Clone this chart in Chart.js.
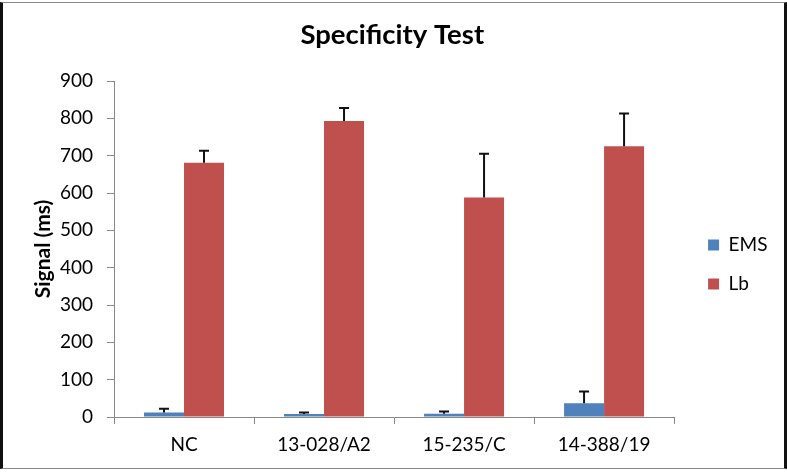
<!DOCTYPE html>
<html>
<head>
<meta charset="utf-8">
<script src="https://cdn.jsdelivr.net/npm/chart.js@4/dist/chart.umd.min.js"></script>
<style>
  html, body { margin: 0; padding: 0; background: #fff; }
  #wrap { position: relative; width: 787px; height: 472px; }
  #frame { position: absolute; left: 0; top: 2px; width: 787px; height: 467px;
           border-left: 3px solid #111; border-right: 3px solid #111;
           border-top: 1px solid #888; border-bottom: 1px solid #888; box-sizing: border-box; pointer-events: none; }
</style>
</head>
<body>
<div id="wrap">
  <canvas id="c" width="787" height="472"></canvas>
  <div id="frame"></div>
</div>
<script>
const categories = ['NC', '13-028/A2', '15-235/C', '14-388/19'];
const emsValues = [12, 8, 9, 37];
const emsErrors = [10, 4, 6, 31];
const lbValues = [681, 793, 588, 725];
const lbErrors = [32, 35, 117, 88];
const seriesNames = ['EMS', 'Lb'];
const yTicks = { min: 0, max: 900, step: 100 };

const FONT = 'Lato, "Open Sans", sans-serif';
const errorSets = [emsErrors, lbErrors];

const errorBars = {
  id: 'errorBars',
  afterDatasetsDraw(chart) {
    const ctx = chart.ctx;
    const y = chart.scales.y;
    ctx.save();
    ctx.strokeStyle = '#111';
    ctx.lineWidth = 2;
    chart.data.datasets.forEach((ds, di) => {
      const meta = chart.getDatasetMeta(di);
      meta.data.forEach((bar, i) => {
        const v = ds.data[i];
        const e = errorSets[di][i];
        const yTop = y.getPixelForValue(v + e);
        const yBase = bar.y;
        ctx.beginPath();
        ctx.moveTo(bar.x, yBase);
        ctx.lineTo(bar.x, yTop);
        ctx.moveTo(bar.x - 5, yTop);
        ctx.lineTo(bar.x + 5, yTop);
        ctx.stroke();
      });
    });
    ctx.restore();
  }
};

new Chart(document.getElementById('c'), {
  type: 'bar',
  data: {
    labels: categories,
    datasets: [
      { label: seriesNames[0], data: emsValues, backgroundColor: '#4F81BD' },
      { label: seriesNames[1], data: lbValues, backgroundColor: '#C0504D' }
    ]
  },
  options: {
    responsive: false,
    animation: false,
    events: [],
    layout: { padding: { left: 7, right: 9.5, top: 0, bottom: 0 } },
    datasets: { bar: { categoryPercentage: 80 / 140, barPercentage: 1.0 } },
    plugins: {
      title: {
        display: true, text: 'Specificity Test', color: '#000',
        font: { family: FONT, size: 27.5, weight: 'bold', lineHeight: 1.2 },
        padding: { top: 19, bottom: 29 }
      },
      legend: {
        position: 'right',
        title: { display: true, text: ' ', font: { size: 10, lineHeight: 1.2 }, padding: { top: 22.5, bottom: 22.5 } },
        labels: {
          boxWidth: 11, boxHeight: 11, color: '#000', padding: 20,
          font: { family: FONT, size: 19 }
        }
      },
      tooltip: { enabled: false }
    },
    scales: {
      x: {
        afterFit(s) { s.height = 55; },
        grid: { drawOnChartArea: false, drawTicks: true, tickLength: 7, color: '#888', offset: true },
        border: { color: '#888', width: 1 },
        ticks: { color: '#000', padding: 9, font: { family: FONT, size: 19 } }
      },
      y: {
        min: yTicks.min, max: yTicks.max,
        afterFit(s) { s.width = 107; },
        grid: { drawOnChartArea: false, drawTicks: true, tickLength: 7, color: '#888' },
        border: { color: '#888', width: 1 },
        ticks: { stepSize: yTicks.step, color: '#000', padding: 14, font: { family: FONT, size: 19 } },
        title: {
          display: true, text: 'Signal (ms)', color: '#000',
          font: { family: FONT, size: 21, weight: 'bold' },
          padding: { top: 23.4, bottom: 0 }
        }
      },
      gap: {
        type: 'linear', position: 'right', display: true,
        afterFit(s) { s.width = 14; },
        grid: { display: false }, border: { display: false }, ticks: { display: false }
      }
    }
  },
  plugins: [errorBars]
});
</script>
</body>
</html>
